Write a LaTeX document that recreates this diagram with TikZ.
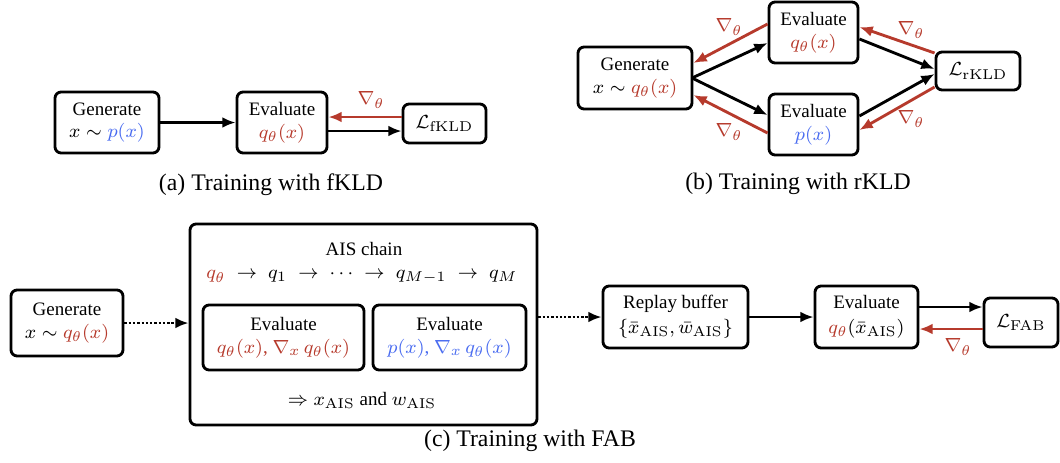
\documentclass[tikz,border=0pt]{standalone}
\usepackage[no-math]{fontspec}
\setmainfont{Liberation Serif}
\usetikzlibrary{arrows.meta}
\definecolor{myred}{HTML}{B63A2C}
\definecolor{myblue}{HTML}{4A6CF0}
\newcommand{\rd}[1]{{\color{myred}#1}}
\newcommand{\bl}[1]{{\color{myblue}#1}}
\tikzset{
  box/.style={draw, line width=1.2pt, rounded corners=2.6pt, align=center, inner sep=0pt,
    font=\fontsize{8}{9.6}\selectfont},
  bx/.style 2 args={minimum width={#1*0.421pt}, minimum height={#2*0.421pt}},
  conn/.style={line width=1.2pt, -{Latex[length=5.6pt,width=4.6pt]}},
  rconn/.style={conn, myred},
  dconn/.style={conn, dash pattern=on 1pt off 0.8pt},
  glab/.style={text=myred, font=\fontsize{8}{9.5}\selectfont, inner sep=0pt},
  captext/.style={font=\fontsize{10}{12}\selectfont, inner sep=0pt},
  plain/.style={align=center, inner sep=0pt, font=\fontsize{8}{9.5}\selectfont}
}
\begin{document}
\begin{tikzpicture}[x=0.421pt, y=-0.421pt]
\useasboundingbox (0,0) rectangle (1060,462);
% ---------- (a)
\node[box, bx={104}{61}] (gA) at (107,122.5) {Generate\\$x\sim\bl{p(x)}$};
\node[box, bx={90}{61}] (eA) at (282,122.5) {Evaluate\\$\rd{q_\theta(x)}$};
\node[box, bx={83}{39}] (lA) at (444.5,123.5) {$\mathcal{L}_{\mathrm{fKLD}}$};
\draw[conn] (gA) -- (eA);
\draw[conn] (eA.east |- 0,131) -- (lA.west |- 0,131);
\draw[rconn] (lA.west |- 0,117) -- (eA.east |- 0,117);
\node[glab] (ga1) at (371,100) {$\nabla_\theta$};
\node[captext] (capA) at (271,185) {(a) Training with fKLD};
% ---------- (b)
\node[box, bx={114}{62}] (gB) at (635,78) {Generate\\$x\sim\rd{q_\theta(x)}$};
\node[box, bx={89}{61}] (eB1) at (813.5,32.5) {Evaluate\\$\rd{q_\theta(x)}$};
\node[box, bx={89}{61}] (eB2) at (813.5,124.5) {Evaluate\\$\bl{p(x)}$};
\node[box, bx={84}{38}] (lB) at (978,71) {$\mathcal{L}_{\mathrm{rKLD}}$};
\coordinate (gBe) at (692,78);
\draw[conn] (gBe) -- (eB1.west |- 0,43);
\draw[conn] (gBe) -- (eB2.west |- 0,115);
\draw[conn] (eB1.east |- 0,39) -- (lB.west |- 0,69);
\draw[conn] (eB2.east |- 0,116) -- (lB.west |- 0,74);
\draw[rconn] (eB1.west |- 0,24) -- (gB.east |- 0,63);
\draw[rconn] (eB2.west |- 0,133) -- (gB.east |- 0,95);
\draw[rconn] (lB.west |- 0,53) -- (eB1.east |- 0,27);
\draw[rconn] (lB.west |- 0,87) -- (eB2.east |- 0,130);
\node[glab] (gb1) at (729,27) {$\nabla_\theta$};
\node[glab] (gb2) at (729,132) {$\nabla_\theta$};
\node[glab] (gb3) at (911,30) {$\nabla_\theta$};
\node[glab] (gb4) at (911,119) {$\nabla_\theta$};
\node[captext] (capB) at (798,184) {(b) Training with rKLD};
% ---------- (c)
\node[box, bx={112}{66}] (gC) at (67,323) {Generate\\$x\sim\rd{q_\theta(x)}$};
\node[box, bx={347}{201}] (ais) at (363.5,324.5) {};
\node[plain] (aist) at (364,249) {AIS chain};
\node[plain] (chain) at (362,277) {$\rd{q_\theta}\;\rightarrow\;q_1\;\rightarrow\;\cdots\;\rightarrow\;q_{M-1}\;\rightarrow\;q_M$};
\node[box, bx={161}{65}] (iE1) at (283.5,337.5) {Evaluate\\\rd{$q_\theta(x)$, $\nabla_x\,q_\theta(x)$}};
\node[box, bx={153}{65}] (iE2) at (449.5,337.5) {Evaluate\\\bl{$p(x)$, $\nabla_x\,q_\theta(x)$}};
\node[plain] (res) at (362,400) {$\Rightarrow x_{\mathrm{AIS}}$ and $w_{\mathrm{AIS}}$};
\draw[dconn] (gC.east |- 0,323) -- (ais.west |- 0,323);
\node[box, bx={145}{62}] (rb) at (675.5,317) {Replay buffer\\[0.8pt]$\{\bar{x}_{\mathrm{AIS}},\bar{w}_{\mathrm{AIS}}\}$};
\draw[dconn] (ais.east |- 0,317) -- (rb.west |- 0,317);
\node[box, bx={103}{62}] (eC) at (866.5,317) {Evaluate\\[0.8pt]$\rd{q_\theta}(\bar{x}_{\mathrm{AIS}})$};
\node[box, bx={74}{49}] (lC) at (1021,322.5) {$\mathcal{L}_{\mathrm{FAB}}$};
\draw[conn] (rb) -- (eC);
\draw[conn] (eC.east |- 0,307) -- (lC.west |- 0,307);
\draw[rconn] (lC.west |- 0,329) -- (eC.east |- 0,329);
\node[glab] (gc1) at (958,347) {$\nabla_\theta$};
\node[captext] (capC) at (530,441) {(c) Training with FAB};
\end{tikzpicture}
\end{document}
